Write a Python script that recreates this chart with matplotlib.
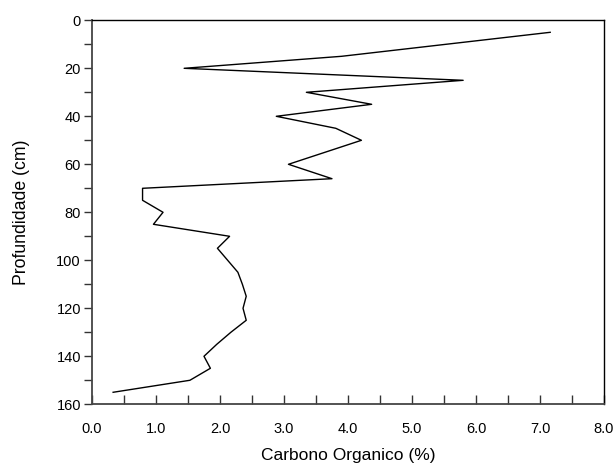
import matplotlib
matplotlib.use("Agg")
import matplotlib.pyplot as plt
from matplotlib.ticker import MultipleLocator, FormatStrFormatter

plt.rcParams['font.family'] = ['Liberation Sans', 'DejaVu Sans']

# profundidade (cm) e carbono organico (%)
depth = [5, 15, 20, 25, 30, 35, 40, 45, 50, 60, 66, 70, 75, 80, 85, 90, 95,
         100, 105, 110, 115, 120, 125, 130, 135, 140, 145, 150, 155]
carbon = [7.16, 3.90, 1.44, 5.80, 3.35, 4.37, 2.88, 3.81, 4.21, 3.07, 3.75,
          0.79, 0.79, 1.11, 0.96, 2.15, 1.96, 2.12, 2.28, 2.35, 2.41, 2.36,
          2.41, 2.17, 1.95, 1.75, 1.85, 1.53, 0.33]

fig = plt.figure(figsize=(6.15, 4.69), dpi=100)
ax = fig.add_axes([0.1496, 0.138, 0.8324, 0.8187])

ax.plot(carbon, depth, color='black', lw=1.0)

ax.set_xlim(0, 8)
ax.set_ylim(160, 0)
ax.xaxis.set_major_locator(MultipleLocator(1))
ax.xaxis.set_minor_locator(MultipleLocator(0.5))
ax.xaxis.set_major_formatter(FormatStrFormatter('%.1f'))
ax.yaxis.set_major_locator(MultipleLocator(20))
ax.yaxis.set_minor_locator(MultipleLocator(10))

ax.tick_params(axis='x', which='both', direction='in', length=6.5, width=1,
               labelsize=10.5, pad=12.5, color='#333333')
ax.tick_params(axis='y', which='both', direction='out', length=6, width=1,
               labelsize=10.5, pad=2, color='#333333')

for side in ['left', 'bottom']:
    ax.spines[side].set_color('#444444')
    ax.spines[side].set_linewidth(1.3)
for side in ['top', 'right']:
    ax.spines[side].set_color('black')
    ax.spines[side].set_linewidth(1.0)

ax.set_xlabel('Carbono Organico (%)', fontsize=12.5, labelpad=9)
ax.set_ylabel('Profundidade (cm)', fontsize=12.7, labelpad=19)

fig.savefig('out.png', dpi=100)
